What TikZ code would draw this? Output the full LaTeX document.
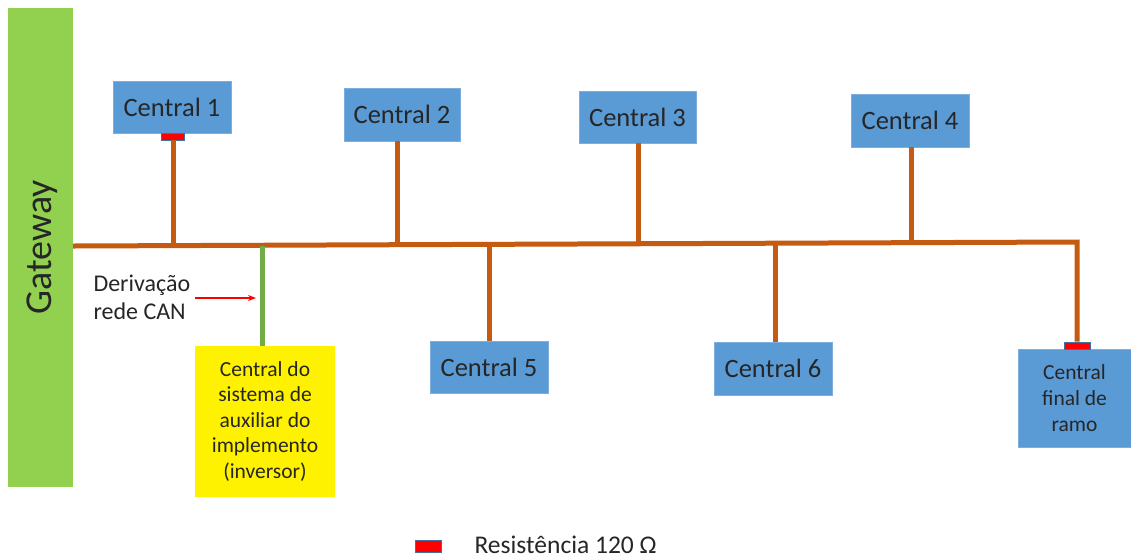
\documentclass[tikz,border=0pt]{standalone}
\usepackage{fontspec}
\setmainfont{Carlito}
\usetikzlibrary{arrows.meta}
\definecolor{gwgreen}{HTML}{92D050}
\definecolor{brgreen}{HTML}{70AD47}
\definecolor{canbus}{HTML}{C55A11}
\definecolor{ecublue}{HTML}{5B9BD5}
\definecolor{resred}{HTML}{FF0000}
\definecolor{resedge}{HTML}{41719C}
\tikzset{
  ecu/.style={fill=ecublue, draw=ecublue!80!white, line width=0.6pt, inner sep=0pt,
    font=\fontsize{26.5}{28}\selectfont, text=black!85},
  ecusmall/.style={fill=ecublue, draw=ecublue!80!white, line width=0.6pt, inner sep=0pt,
    font=\fontsize{21.5}{26}\selectfont, text=black!85, align=center},
  res/.style={fill=resred, draw=resedge, line width=0.6pt, inner sep=0pt},
  bus/.style={draw=canbus, line width=5pt},
  branch/.style={draw=brgreen, line width=5pt},
}
\begin{document}
\begin{tikzpicture}[x=1pt,y=-1pt]
\useasboundingbox (0,0) rectangle (1131,558);

% Gateway
\node[fill=gwgreen, minimum width=65pt, minimum height=479pt, inner sep=0pt] (gw) at (40.5,247.5) {};
\node[rotate=90, font=\fontsize{38}{40}\selectfont, text=black!85] (gwt) at (42,247) {Gateway};

% Bus coordinates and stub taps
\coordinate (b0) at (73,246);
\coordinate (bend) at (1077,242);
\coordinate (s1) at (173,245.5);
\coordinate (s2) at (397,245);
\coordinate (s3) at (638,244);
\coordinate (s4) at (911,243);
\coordinate (s5) at (489,245);
\coordinate (s6) at (775,244);

% Upper centrals
\node[ecu, minimum width=118pt, minimum height=52pt] (c1) at (172,107) {Central 1};
\node[ecu, minimum width=116pt, minimum height=53pt] (c2) at (402,114.5) {Central 2};
\node[ecu, minimum width=117pt, minimum height=52pt] (c3) at (637.5,117) {Central 3};
\node[ecu, minimum width=118pt, minimum height=53pt] (c4) at (910,120.5) {Central 4};

% Lower centrals
\node[ecu, minimum width=118pt, minimum height=52pt] (c5) at (489,367) {Central 5};
\node[ecu, minimum width=118pt, minimum height=53pt] (c6) at (773,368.5) {Central 6};
\node[ecusmall, minimum width=113pt, minimum height=98pt] (cf) at (1074.5,398) {Central\\final de\\ramo};

% Implement auxiliary unit
\node[fill=yellow, minimum width=140pt, minimum height=151pt, inner sep=0pt,
  font=\fontsize{21.5}{25.5}\selectfont, align=center, text=black!85] (ci) at (265,421.5)
  {Central do\\sistema de\\auxiliar do\\implemento\\(inversor)};

% Terminating resistors
\node[res, minimum width=23pt, minimum height=7pt] (r1) at (172.5,136.5) {};
\node[res, minimum width=26pt, minimum height=7pt] (r2) at (1077,345.5) {};

% Stubs
\draw[bus] (r1.south -| s1) -- (s1);
\draw[bus] (c2.south -| s2) -- (s2);
\draw[bus] (c3.south -| s3) -- (s3);
\draw[bus] (c4.south -| s4) -- (s4);
\draw[bus] (s5) -- (c5.north -| s5);
\draw[bus] (s6) -- (c6.north -| s6);

% Main CAN bus
\draw[bus, line join=miter] (b0) -- (bend) -- (r2.north);

% CAN derivation
\draw[branch] (262,246) -- (ci.north -| 262,0);
\node[font=\fontsize{24}{28}\selectfont, align=left, anchor=west, text=black!85] (der) at (90,297)
  {Derivação\\rede CAN};
\coordinate (arrst) at (195,298);
\coordinate (arrtip) at (256,298);
\draw[-{Stealth[length=8pt,width=6pt]}, draw=red, fill=red, line width=1.5pt] (arrst) -- (arrtip);

% Legend
\node[res, minimum width=26pt, minimum height=12pt] (lr) at (428,546) {};
\node[anchor=base west, font=\fontsize{25.5}{27}\selectfont, text=black!85] (lt) at (471,553) {Resistência 120 Ω};
\end{tikzpicture}
\end{document}
